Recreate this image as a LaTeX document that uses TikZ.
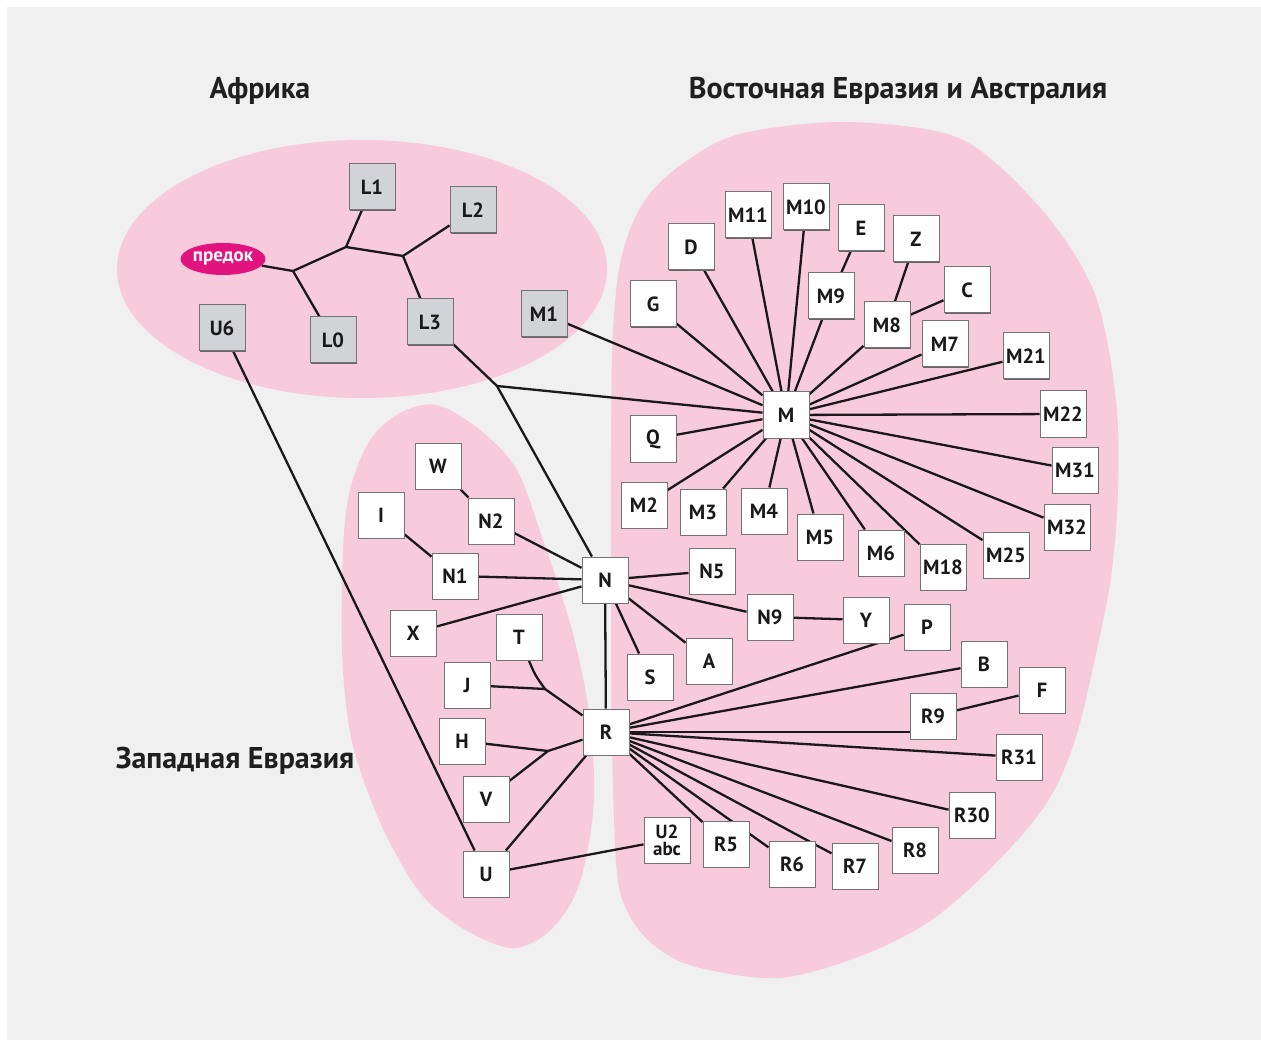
\documentclass[tikz,border=0pt]{standalone}
\usepackage{fontspec}
\setmainfont{PT Sans}
\usetikzlibrary{shapes.geometric,shadows,backgrounds}
\definecolor{bggrey}{RGB}{240,240,240}
\definecolor{blobpink}{RGB}{247,202,220}
\definecolor{boxgrey}{RGB}{210,211,214}
\definecolor{linecol}{RGB}{25,25,25}
\definecolor{ancmag}{RGB}{226,19,127}
\newcommand\boxfont{\bfseries\fontsize{20.5}{17}\selectfont}
\newcommand\headfont{\bfseries\fontsize{30}{32}\selectfont}
\tikzset{
  box/.style={draw=black!55, line width=1pt, fill=white, minimum width=46pt,
    minimum height=46pt, inner sep=0pt, font=\boxfont, text=black!90,
    drop shadow={shadow xshift=1.4pt, shadow yshift=-1.4pt, fill=black!60, opacity=1}},
  gbox/.style={box, fill=boxgrey},
  link/.style={line width=2.3pt, draw=linecol},
  head/.style={font=\headfont, text=black!88, inner sep=0pt}
}
\begin{document}
\begin{tikzpicture}[x=1pt,y=-1pt]
\useasboundingbox (0,0) rectangle (1261,1040);
\begin{pgfonlayer}{background}
  \fill[white] (0,0) rectangle (1261,1040);
  \fill[bggrey] (7,7) rectangle (1261,1040);
  % Africa
  \fill[blobpink] (362,269) ellipse [x radius=245, y radius=129];
  % East Eurasia & Australia
  \fill[blobpink] plot[smooth cycle, tension=0.55] coordinates {
    (612,740) (611,600) (611,450) (613,330) (622,255) (645,200) (685,162)
    (740,134) (841,122) (944,133) (998,165) (1058,230) (1097,300) (1116,400)
    (1118,490) (1112,570) (1099,640) (1075,740) (1044,807) (986,873) (927,923)
    (858,957) (779,978) (700,968) (660,950) (632,920) (617,873)};
  % West Eurasia
  \fill[blobpink] plot[smooth cycle, tension=0.55] coordinates {
    (437,405) (480,430) (517,470) (543,540) (560,590) (577,650) (590,720)
    (594,800) (584,867) (570,905) (545,935) (515,948) (485,940) (450,920)
    (418,890) (385,833) (360,770) (348,720) (342,650) (343,550) (350,490)
    (370,440) (400,413)};
\end{pgfonlayer}

% headings
\node[head] (hAf) at (260,91) {Африка};
\node[head] (hEa) at (898,91) {Восточная Евразия и Австралия};
\node[head] (hWe) at (235,761) {Западная Евразия};

% Africa
\node[ellipse, fill=ancmag, text=white, minimum width=80pt, minimum height=32pt,
  inner sep=0pt, font=\bfseries\fontsize{19}{19}\selectfont] (anc) at (223,259) {предок};
\node[gbox] (L1) at (372,187) {L1};
\node[gbox] (L2) at (473,210) {L2};
\node[gbox] (L0) at (333,340) {L0};
\node[gbox] (L3) at (430,322) {L3};
\node[gbox] (M1) at (544,314) {M1};
\node[gbox] (U6) at (222,328) {U6};
\coordinate (j1) at (293,271);
\coordinate (j2) at (346,247);
\coordinate (j3) at (403,256);
\coordinate (j4) at (497,386);

% M cluster
\node[box] (M) at (786,415) {M};
\node[box] (G) at (653,304) {G};
\node[box] (D) at (691,247) {D};
\node[box] (M11) at (748,215) {M11};
\node[box] (M10) at (806,207) {M10};
\node[box] (E) at (861,228) {E};
\node[box] (Z) at (916,239) {Z};
\node[box] (M9) at (831,296) {M9};
\node[box] (M8) at (887,325) {M8};
\node[box] (C) at (967,290) {C};
\node[box] (M7) at (945,344) {M7};
\node[box] (M21) at (1026,356) {M21};
\node[box] (M22) at (1063,414) {M22};
\node[box] (M31) at (1075,470) {M31};
\node[box] (M32) at (1067,527) {M32};
\node[box] (M25) at (1006,555) {M25};
\node[box] (M18) at (943,567) {M18};
\node[box] (M6) at (881,553) {M6};
\node[box] (M5) at (820,537) {M5};
\node[box] (M4) at (764,511) {M4};
\node[box] (M3) at (703,512) {M3};
\node[box] (M2) at (644,505) {M2};
\node[box] (Q) at (653,439) {Q};

% N cluster
\node[box] (N) at (605,580) {N};
\node[box] (N5) at (712,571) {N5};
\node[box] (N9) at (770,617) {N9};
\node[box] (Y) at (866,620) {Y};
\node[box] (A) at (709,661) {A};
\node[box] (S) at (650,677) {S};
\node[box] (W) at (438,466) {W};
\node[box] (I) at (381,515) {I};
\node[box] (N2) at (491,521) {N2};
\node[box] (N1) at (455,576) {N1};
\node[box] (X) at (413,633) {X};

% R cluster
\node[box] (R) at (606,732) {R};
\node[box] (T) at (519,637) {T};
\node[box] (J) at (467,685) {J};
\node[box] (H) at (462,741) {H};
\node[box] (V) at (486,799) {V};
\node[box] (U) at (486,874) {U};
\node[box] (P) at (927,627) {P};
\node[box] (B) at (984,664) {B};
\node[box] (F) at (1042,690) {F};
\node[box] (R9) at (933,716) {R9};
\node[box] (R31) at (1019,757) {R31};
\node[box] (R30) at (972,815) {R30};
\node[box] (R8) at (915,850) {R8};
\node[box] (R7) at (855,866) {R7};
\node[box] (R6) at (792,864) {R6};
\node[box] (R5) at (726,844) {R5};
\node[box, align=center, font=\bfseries\fontsize{19}{17}\selectfont] (U2) at (667,840) {U2\\abc};
\coordinate (jT) at (545,689);
\coordinate (jH) at (548,751);

\begin{pgfonlayer}{background}
  % Africa tree
  \draw[link] (anc) -- (j1) -- (j2) -- (j3);
  \draw[link] (j1) -- (L0);
  \draw[link] (j2) -- (L1);
  \draw[link] (j3) -- (L2);
  \draw[link] (j3) -- (L3);
  \draw[link] (L3) -- (j4) -- (N);
  \draw[link] (j4) -- (M);
  \draw[link] (M1) -- (M);
  \draw[link] (U6) -- (U);
  % M star
  \foreach \n in {G,D,M11,M10,M9,M8,M7,M21,M22,M31,M32,M25,M18,M6,M5,M4,M3,M2,Q}
    \draw[link] (M) -- (\n);
  \draw[link] (M9) -- (E);
  \draw[link] (M8) -- (Z);
  \draw[link] (M8) -- (C);
  % N star
  \foreach \n in {N5,N9,A,S,N2,N1,X,R}
    \draw[link] (N) -- (\n);
  \draw[link] (N9) -- (Y);
  \draw[link] (W) -- (N2);
  \draw[link] (I) -- (N1);
  % R star
  \draw[link] (T) .. controls (535,675) .. (jT);
  \draw[link] (J) -- (jT);
  \draw[link] (jT) -- (R);
  \draw[link] (H) -- (jH);
  \draw[link] (V) -- (jH);
  \draw[link] (jH) -- (R);
  \draw[link] (U) -- (R);
  \draw[link] (U) -- (U2);
  \draw[link] (R) -- (R9.west |- R);
  \foreach \n in {P,B,R31,R30,R8,R7,R6,R5}
    \draw[link] (R) -- (\n);
  \draw[link] (R9) -- (F);
\end{pgfonlayer}
\end{tikzpicture}
\end{document}
